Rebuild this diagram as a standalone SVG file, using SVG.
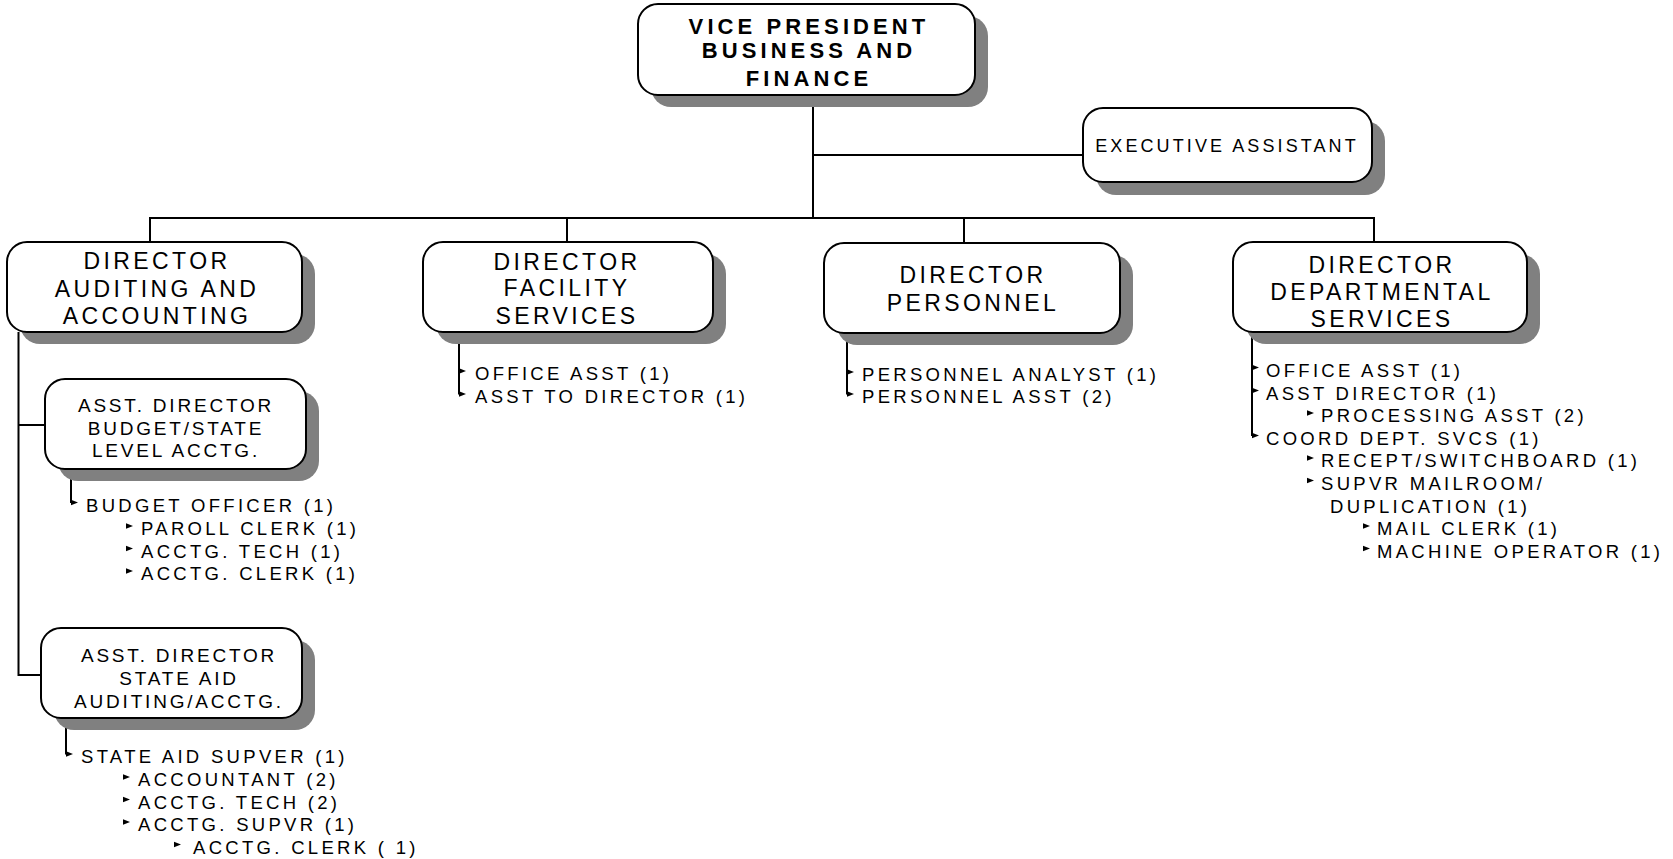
<svg xmlns="http://www.w3.org/2000/svg" xmlns:xlink="http://www.w3.org/1999/xlink" width="1673" height="859" viewBox="0 0 1673 859">
  <style>
    .shadow { fill: #808080; }
    .box { fill: #ffffff; stroke: #000000; stroke-width: 2; }
    .wire { fill: none; stroke: #000000; stroke-width: 2; }
    .vp { font-family: "Liberation Sans", Arial, sans-serif; font-weight: bold; font-size: 22px; letter-spacing: 4.1px; text-anchor: middle; fill: #000; }
    .dir { font-family: "Liberation Sans", Arial, sans-serif; font-size: 23px; letter-spacing: 3.4px; text-anchor: middle; fill: #000; }
    .sub { font-family: "Liberation Sans", Arial, sans-serif; font-size: 19px; letter-spacing: 2.8px; text-anchor: middle; fill: #000; }
    .item { font-family: "Liberation Sans", Arial, sans-serif; font-size: 18.5px; letter-spacing: 3.3px; fill: #000; }
    .exec { font-family: "Liberation Sans", Arial, sans-serif; font-size: 18px; letter-spacing: 3.1px; text-anchor: middle; fill: #000; }
  </style>
  <defs>
    <path id="tip" d="M0,-2.8 L7,0 L0,2.8 Z" fill="#000"/>
  </defs>

  <rect width="1673" height="859" fill="#ffffff"/>

  <!-- connectors -->
  <g id="connectors">
    <path class="wire" d="M813,95 V219"/>
    <path class="wire" d="M813,155 H1083"/>
    <path class="wire" d="M150,218 H1375"/>
    <path class="wire" d="M150,217 V242 M567,217 V242 M964,217 V243 M1374,217 V242"/>
    <!-- auditing and accounting branch -->
    <path class="wire" d="M18.5,332 V675 H41 M18.5,425 H45"/>
    <path class="wire" d="M71,469 V503"/>
    <path class="wire" d="M66,718 V754.5"/>
    <!-- director staff lists -->
    <path class="wire" d="M459,332 V394.5"/>
    <path class="wire" d="M847,333 V394.5"/>
    <path class="wire" d="M1252,332 V436"/>
  </g>

  <g id="vp">
    <rect class="shadow" x="651" y="16" width="337" height="91" rx="20"/>
    <rect class="box" x="638" y="4" width="337" height="91" rx="20"/>
    <text class="vp" x="809" y="34">VICE PRESIDENT</text>
    <text class="vp" x="809" y="58">BUSINESS AND</text>
    <text class="vp" x="809" y="86">FINANCE</text>
  </g>

  <g id="exec-assistant">
    <rect class="shadow" x="1096" y="121" width="289" height="74" rx="20"/>
    <rect class="box" x="1083" y="108" width="289" height="74" rx="20"/>
    <text class="exec" x="1227" y="152">EXECUTIVE ASSISTANT</text>
  </g>

  <g id="dir-auditing">
    <rect class="shadow" x="20" y="254" width="295" height="90" rx="20"/>
    <rect class="box" x="7" y="242" width="295" height="90" rx="20"/>
    <text class="dir" x="157" y="269">DIRECTOR</text>
    <text class="dir" x="157" y="297">AUDITING AND</text>
    <text class="dir" x="157" y="324">ACCOUNTING</text>
  </g>

  <g id="dir-facility">
    <rect class="shadow" x="436" y="254" width="290" height="90" rx="20"/>
    <rect class="box" x="423" y="242" width="290" height="90" rx="20"/>
    <text class="dir" x="567" y="270">DIRECTOR</text>
    <text class="dir" x="567" y="296">FACILITY</text>
    <text class="dir" x="567" y="324">SERVICES</text>
  </g>

  <g id="dir-personnel">
    <rect class="shadow" x="837" y="255" width="296" height="90" rx="20"/>
    <rect class="box" x="824" y="243" width="296" height="90" rx="20"/>
    <text class="dir" x="973" y="283">DIRECTOR</text>
    <text class="dir" x="973" y="311">PERSONNEL</text>
  </g>

  <g id="dir-departmental">
    <rect class="shadow" x="1246" y="254" width="294" height="90" rx="20"/>
    <rect class="box" x="1233" y="242" width="294" height="90" rx="20"/>
    <text class="dir" x="1382" y="273">DIRECTOR</text>
    <text class="dir" x="1382" y="300">DEPARTMENTAL</text>
    <text class="dir" x="1382" y="327">SERVICES</text>
  </g>

  <g id="asst-budget">
    <rect class="shadow" x="58" y="391" width="261" height="90" rx="20"/>
    <rect class="box" x="45" y="379" width="261" height="90" rx="20"/>
    <text class="sub" x="176" y="411.5">ASST. DIRECTOR</text>
    <text class="sub" x="176" y="434.5">BUDGET/STATE</text>
    <text class="sub" x="176" y="457">LEVEL ACCTG.</text>
  </g>

  <g id="asst-state-aid">
    <rect class="shadow" x="54" y="640" width="261" height="90" rx="20"/>
    <rect class="box" x="41" y="628" width="261" height="90" rx="20"/>
    <text class="sub" x="179" y="662">ASST. DIRECTOR</text>
    <text class="sub" x="179" y="685">STATE AID</text>
    <text class="sub" x="179" y="708">AUDITING/ACCTG.</text>
  </g>

  <g id="list-budget">
    <use xlink:href="#tip" x="71" y="502.5"/>
    <text class="item" x="86" y="511.5">BUDGET OFFICER (1)</text>
    <use xlink:href="#tip" x="126" y="526"/>
    <text class="item" x="141" y="535">PAROLL CLERK (1)</text>
    <use xlink:href="#tip" x="126" y="548.5"/>
    <text class="item" x="141" y="557.5">ACCTG. TECH (1)</text>
    <use xlink:href="#tip" x="126" y="571"/>
    <text class="item" x="141" y="580">ACCTG. CLERK (1)</text>
  </g>

  <g id="list-state-aid">
    <use xlink:href="#tip" x="66" y="754"/>
    <text class="item" x="81" y="762.5">STATE AID SUPVER (1)</text>
    <use xlink:href="#tip" x="123" y="777"/>
    <text class="item" x="138" y="786">ACCOUNTANT (2)</text>
    <use xlink:href="#tip" x="123" y="799.5"/>
    <text class="item" x="138" y="808.5">ACCTG. TECH (2)</text>
    <use xlink:href="#tip" x="123" y="822"/>
    <text class="item" x="138" y="831">ACCTG. SUPVR (1)</text>
    <use xlink:href="#tip" x="174" y="844.5"/>
    <text class="item" x="193" y="853.5">ACCTG. CLERK ( 1)</text>
  </g>

  <g id="list-facility">
    <use xlink:href="#tip" x="459" y="371"/>
    <text class="item" x="475" y="380">OFFICE ASST (1)</text>
    <use xlink:href="#tip" x="459" y="394"/>
    <text class="item" x="475" y="403">ASST TO DIRECTOR (1)</text>
  </g>

  <g id="list-personnel">
    <use xlink:href="#tip" x="847" y="372"/>
    <text class="item" x="862" y="381">PERSONNEL ANALYST (1)</text>
    <use xlink:href="#tip" x="847" y="394"/>
    <text class="item" x="862" y="403">PERSONNEL ASST (2)</text>
  </g>

  <g id="list-departmental">
    <use xlink:href="#tip" x="1252" y="367.5"/>
    <text class="item" x="1266" y="376.5">OFFICE ASST (1)</text>
    <use xlink:href="#tip" x="1252" y="390.5"/>
    <text class="item" x="1266" y="399.5">ASST DIRECTOR (1)</text>
    <use xlink:href="#tip" x="1307" y="413"/>
    <text class="item" x="1321" y="422">PROCESSING ASST (2)</text>
    <use xlink:href="#tip" x="1252" y="435.5"/>
    <text class="item" x="1266" y="444.5">COORD DEPT. SVCS (1)</text>
    <use xlink:href="#tip" x="1307" y="458"/>
    <text class="item" x="1321" y="467">RECEPT/SWITCHBOARD (1)</text>
    <use xlink:href="#tip" x="1307" y="480.5"/>
    <text class="item" x="1321" y="489.5">SUPVR MAILROOM/</text>
    <text class="item" x="1330" y="512.5">DUPLICATION (1)</text>
    <use xlink:href="#tip" x="1363" y="526"/>
    <text class="item" x="1377" y="535">MAIL CLERK (1)</text>
    <use xlink:href="#tip" x="1363" y="548.5"/>
    <text class="item" x="1377" y="557.5">MACHINE OPERATOR (1)</text>
  </g>
</svg>
